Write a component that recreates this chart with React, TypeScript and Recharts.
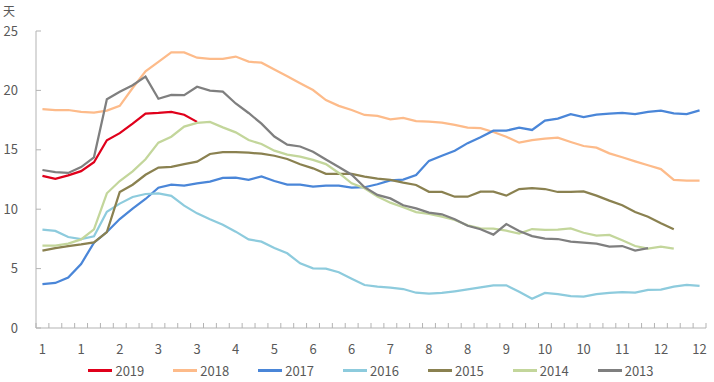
import { LineChart, Line, XAxis, YAxis, Legend } from 'recharts'

const FONT = "'Noto Sans CJK SC', 'Noto Sans', sans-serif"
const TEXT = '#595959'
const AXIS = '#B3B3B3'

// weekly points, x labels are the month of every third week
const weeks = Array.from({ length: 52 }, (_, i) => i + 1)
const monthLabels = ['1', '1', '2', '3', '3', '4', '5', '6', '6', '7', '8', '8', '9', '10', '10', '11', '12', '12']
const yTicks = [0, 5, 10, 15, 20, 25]

const s2019 = [12.8, 12.55, 12.85, 13.2, 13.95, 15.8, 16.4, 17.2, 18.05, 18.1, 18.2, 17.95, 17.35]
const s2018 = [
  18.43, 18.35, 18.35, 18.2, 18.13, 18.3, 18.7, 20.2, 21.6, 22.4, 23.2, 23.2, 22.75, 22.65, 22.65, 22.85, 22.42,
  22.33, 21.75, 21.2, 20.6, 20.03, 19.19, 18.7, 18.35, 17.93, 17.85, 17.56, 17.68, 17.42, 17.37, 17.28, 17.1, 16.86,
  16.83, 16.5, 16.1, 15.6, 15.82, 15.94, 16.02, 15.66, 15.32, 15.18, 14.7, 14.37, 14.03, 13.7, 13.38, 12.46, 12.4, 12.4,
]
const s2017 = [
  3.7, 3.79, 4.24, 5.39, 7.18, 8.08, 9.17, 10.04, 10.86, 11.81, 12.06, 11.98, 12.18, 12.32, 12.63, 12.65, 12.47, 12.75,
  12.37, 12.07, 12.07, 11.9, 11.98, 11.98, 11.82, 11.85, 12.1, 12.42, 12.49, 12.87, 14.07, 14.5, 14.92, 15.56, 16.05,
  16.61, 16.61, 16.86, 16.67, 17.45, 17.62, 18.0, 17.76, 17.96, 18.04, 18.1, 18.01, 18.2, 18.29, 18.07, 18.01, 18.32,
]
const s2016 = [
  8.28, 8.17, 7.66, 7.49, 7.72, 9.79, 10.47, 11.03, 11.28, 11.34, 11.12, 10.3, 9.65, 9.15, 8.7, 8.11, 7.46, 7.27, 6.73,
  6.29, 5.44, 5.02, 5.0, 4.69, 4.15, 3.62, 3.48, 3.4, 3.28, 2.97, 2.89, 2.95, 3.09, 3.25, 3.42, 3.59, 3.59, 3.06, 2.47,
  2.95, 2.86, 2.69, 2.64, 2.86, 2.95, 3.03, 2.97, 3.2, 3.23, 3.48, 3.62, 3.54,
]
const s2015 = [
  6.51, 6.73, 6.9, 7.04, 7.21, 8.08, 11.45, 12.06, 12.9, 13.5, 13.57, 13.8, 14.0, 14.65, 14.81, 14.81, 14.76, 14.67,
  14.5, 14.23, 13.78, 13.44, 12.98, 12.98, 12.98, 12.74, 12.57, 12.46, 12.23, 12.04, 11.46, 11.46, 11.05, 11.05, 11.48,
  11.48, 11.14, 11.7, 11.78, 11.7, 11.45, 11.45, 11.5, 11.14, 10.72, 10.33, 9.76, 9.37, 8.81, 8.31,
]
const s2014 = [
  6.93, 6.93, 7.1, 7.46, 8.31, 11.34, 12.37, 13.19, 14.2, 15.6, 16.1, 16.95, 17.26, 17.34, 16.89, 16.47, 15.82, 15.49,
  14.93, 14.59, 14.42, 14.15, 13.8, 13.05, 12.18, 11.76, 11.06, 10.55, 10.16, 9.76, 9.6, 9.37, 9.09, 8.64, 8.39, 8.36,
  8.19, 7.94, 8.33, 8.25, 8.28, 8.38, 8.02, 7.77, 7.83, 7.38, 6.9, 6.68, 6.85, 6.68,
]
const s2013 = [
  13.3, 13.13, 13.05, 13.55, 14.37, 19.25, 19.89, 20.43, 21.16, 19.3, 19.62, 19.6, 20.31, 19.98, 19.89, 18.9, 18.1,
  17.2, 16.12, 15.43, 15.28, 14.83, 14.18, 13.55, 12.9, 11.85, 11.2, 10.91, 10.33, 10.07, 9.71, 9.57, 9.15, 8.61, 8.31,
  7.86, 8.75, 8.16, 7.74, 7.52, 7.49, 7.27, 7.18, 7.1, 6.85, 6.9, 6.51, 6.73,
]

const series = [
  { key: '2019', values: s2019, color: '#E0001B' },
  { key: '2018', values: s2018, color: '#FDBB8A' },
  { key: '2017', values: s2017, color: '#4A86D8' },
  { key: '2016', values: s2016, color: '#8DCBDD' },
  { key: '2015', values: s2015, color: '#8A8150' },
  { key: '2014', values: s2014, color: '#C3D69B' },
  { key: '2013', values: s2013, color: '#7F7F7F' },
]

const data = weeks.map((w, i) => {
  const row: Record<string, number | null> = { week: w }
  series.forEach((s) => {
    row[s.key] = s.values[i] ?? null
  })
  return row
})

// tick marks sit between weeks (x.5), labels on every third week
const boundaryTicks = Array.from({ length: 53 }, (_, i) => i + 0.5)
const labelTicks = monthLabels.map((_, i) => 1 + i * 3)
const xTicks = [...boundaryTicks, ...labelTicks].sort((a, b) => a - b)

function XTick({ x, y, payload }: any) {
  const v = payload.value
  if (Number.isInteger(v)) {
    return (
      <text x={x} y={y + 21} dy="0.36em" textAnchor="middle" fill={TEXT} fontSize={13} fontFamily={FONT}>
        {monthLabels[(v - 1) / 3]}
      </text>
    )
  }
  return <line x1={x} x2={x} y1={y} y2={y - 5} stroke={AXIS} />
}

function YTick({ x, y, payload }: any) {
  return (
    <g>
      <line x1={x} x2={x + 5} y1={y} y2={y} stroke={AXIS} />
      <text x={x - 18} y={y} dy="0.36em" textAnchor="end" fill={TEXT} fontSize={13} fontFamily={FONT}>
        {payload.value}
      </text>
    </g>
  )
}

function LegendContent() {
  return (
    <div
      style={{
        display: 'flex',
        justifyContent: 'center',
        alignItems: 'center',
        paddingLeft: 36,
        gap: 29,
        height: 24,
        fontFamily: FONT,
        fontSize: 13,
        color: TEXT,
      }}
    >
      {series.map((s) => (
        <div key={s.key} style={{ display: 'flex', alignItems: 'center' }}>
          <span style={{ display: 'inline-block', width: 24, height: 3, background: s.color, marginRight: 3 }} />
          <span>{s.key}</span>
        </div>
      ))}
    </div>
  )
}

export default function App() {
  return (
    <div style={{ position: 'absolute', left: 0, top: 0, background: '#fff' }}>
      <LineChart width={714} height={382} data={data} margin={{ top: 31, right: 8, left: 0, bottom: 0 }}>
        <XAxis
          dataKey="week"
          type="number"
          domain={[0.5, 52.5]}
          ticks={xTicks}
          interval={0}
          tick={<XTick />}
          tickLine={false}
          tickSize={0}
          tickMargin={0}
          height={30}
          axisLine={{ stroke: AXIS }}
        />
        <YAxis
          domain={[0, 25]}
          ticks={yTicks}
          interval={0}
          width={36}
          tick={<YTick />}
          tickLine={false}
          tickSize={0}
          tickMargin={0}
          axisLine={{ stroke: AXIS }}
          label={() => (
            <text x={3} y={16} fill={TEXT} fontSize={12} fontFamily={FONT}>
              天
            </text>
          )}
        />
        <Legend verticalAlign="bottom" height={24} content={<LegendContent />} />
        {series.map((s) => (
          <Line
            key={s.key}
            dataKey={s.key}
            stroke={s.color}
            strokeWidth={2.25}
            dot={false}
            activeDot={false}
            type="linear"
            isAnimationActive={false}
          />
        ))}
      </LineChart>
    </div>
  )
}
